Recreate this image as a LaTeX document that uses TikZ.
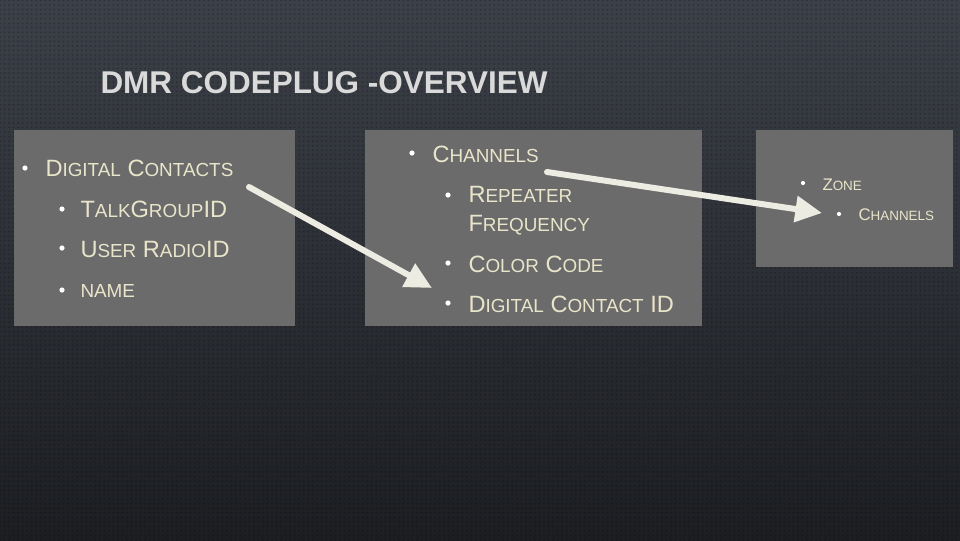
\documentclass[tikz,border=0pt]{standalone}
\usepackage{fontspec}
\setmainfont{Liberation Sans}
\usetikzlibrary{arrows.meta,patterns}

\definecolor{boxgray}{RGB}{107,107,107}
\definecolor{cream}{RGB}{233,229,202}
\definecolor{arrowcol}{RGB}{237,236,226}
\definecolor{bgtop}{RGB}{60,64,72}
\definecolor{bgbottom}{RGB}{28,30,34}

\makeatletter
\newcommand\smc[1]{{\fontsize{\fpeval{0.8*\f@size}}{0}\selectfont #1}}
\makeatother

\pgfdeclarepatternformonly{meshdots}{\pgfpoint{-1pt}{-1pt}}{\pgfpoint{4pt}{4pt}}{\pgfpoint{3.4pt}{3.4pt}}{%
  \pgfpathcircle{\pgfpointorigin}{0.75pt}\pgfusepath{fill}}

\tikzset{every picture/.style={line width=0.75pt}}
\tikzset{
  panel/.style={fill=boxgray, draw=none},
  item/.style={anchor=base west, inner sep=0pt, text=cream, font=\fontsize{17.7}{20}\selectfont},
  itemsmall/.style={item, font=\fontsize{12.6}{15}\selectfont},
  bul/.style={fill=white},
  pointer/.style={draw=arrowcol, line width=4.5pt, line cap=round,
    -{Triangle[length=20pt, width=19pt]}},
}

\begin{document}
\begin{tikzpicture}[x=0.75pt,y=0.75pt,yscale=-1,xscale=1]
\useasboundingbox (0,0) rectangle (960,540);

%Background
\shade [top color=bgtop, bottom color=bgbottom] (0,0) rectangle (960,540);
\fill [pattern=meshdots, pattern color=black, opacity=0.22] (0,0) rectangle (960,540);

%Shape: Rectangle [id:contacts]
\fill [panel] (14,130) rectangle (295,326);
%Shape: Rectangle [id:channels]
\fill [panel] (365,130) rectangle (702,326);
%Shape: Rectangle [id:zone]
\fill [panel] (756,130) rectangle (953,267);

% Text Node
\draw (100,93) node [anchor=base west, inner sep=0pt, text={rgb,255:red,218;green,218;blue,218}, font=\bfseries\fontsize{23.6}{26}\selectfont] (title) {DMR CODEPLUG -OVERVIEW};

% Text Node
\draw (45,176) node [item] (digcon) {D\smc{IGITAL} C\smc{ONTACTS}};
% Text Node
\draw (80,217) node [item] (talkgrp) {T\smc{ALK}G\smc{ROUP}ID};
% Text Node
\draw (80,257) node [item] (userid) {U\smc{SER} R\smc{ADIO}ID};
% Text Node
\draw (80,297) node [item] (name) {\smc{NAME}};

% Text Node
\draw (432,162) node [item] (chan) {C\smc{HANNELS}};
% Text Node
\draw (468,202) node [item] (rep) {R\smc{EPEATER}};
% Text Node
\draw (468,231) node [item] (freq) {F\smc{REQUENCY}};
% Text Node
\draw (468,272) node [item] (color) {C\smc{OLOR} C\smc{ODE}};
% Text Node
\draw (468,312) node [item] (dcid) {D\smc{IGITAL} C\smc{ONTACT} ID};

% Text Node
\draw (822,190) node [itemsmall] (zone) {Z\smc{ONE}};
% Text Node
\draw (858,220) node [itemsmall] (zchan) {C\smc{HANNELS}};

%Bullets
\fill [bul] (25,168) circle (2.6);
\fill [bul] (62,209) circle (2.6);
\fill [bul] (62,248) circle (2.6);
\fill [bul] (62,290) circle (2.6);
\fill [bul] (412,153) circle (2.6);
\fill [bul] (448,195) circle (2.6);
\fill [bul] (448,263) circle (2.6);
\fill [bul] (448,303) circle (2.6);
\fill [bul] (803,183) circle (2.1);
\fill [bul] (839,214) circle (2.1);

%Straight Lines [id:contacts to channels]
\coordinate (a1s) at (249,187);
\coordinate (a1e) at (432,288);
\draw [pointer] (a1s) -- (a1e);
%Straight Lines [id:channels to zone]
\coordinate (a2s) at (547,172);
\coordinate (a2e) at (822,213);
\draw [pointer] (a2s) -- (a2e);

\end{tikzpicture}
\end{document}
